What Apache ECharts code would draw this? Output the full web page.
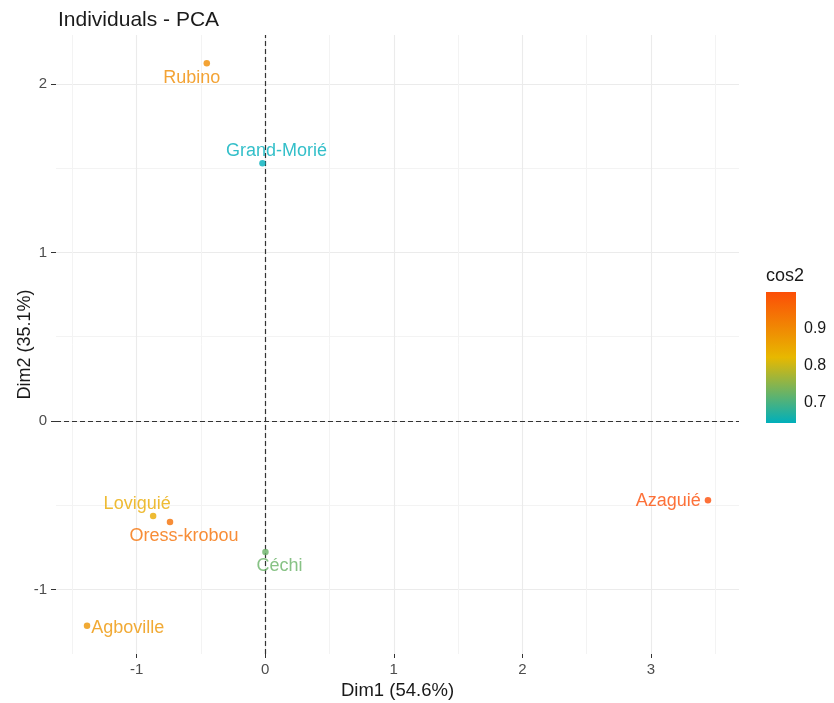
<!DOCTYPE html>
<html>
<head>
<meta charset="utf-8">
<script src="https://cdn.jsdelivr.net/npm/echarts@6/dist/echarts.min.js"></script>
<style>
  html, body { margin: 0; padding: 0; background: #ffffff; }
  #pca-chart { width: 834px; height: 703px; }
</style>
</head>
<body>
<div id="pca-chart"></div>
<script>
// individuals (coordinates on Dim1 / Dim2 and quality of representation)
var names = ['Rubino', 'Grand-Morié', 'Loviguié', 'Oress-krobou', 'Céchi', 'Agboville', 'Azaguié'];
var dim1 = [-0.454, -0.021, -0.871, -0.740, 0.002, -1.385, 3.443];
var dim2 = [2.123, 1.529, -0.564, -0.600, -0.778, -1.216, -0.471];
var cos2 = [0.895, 0.645, 0.845, 0.94, 0.725, 0.88, 0.998];

var xTicks = [-1, 0, 1, 2, 3];
var yTicks = [-1, 0, 1, 2];
var cos2Ticks = [0.7, 0.8, 0.9];
var gradientCols = ['#00AFBB', '#E7B800', '#FC4E07'];

// where the repelled labels ended up, relative to each point
var labelPlace = [
  { pos: 'inside', off: [-15, 15] },
  { pos: 'inside', off: [14, -12] },
  { pos: 'inside', off: [-16, -12] },
  { pos: 'inside', off: [14, 14] },
  { pos: 'inside', off: [14, 14] },
  { pos: 'right', off: [0, 2], dist: 1 },
  { pos: 'left', off: [0, 1], dist: 4 }
];

var font = 'Liberation Sans, Arial, sans-serif';

// ggplot style 5% expansion of the data range
function expand(arr) {
  var lo = Math.min.apply(null, arr), hi = Math.max.apply(null, arr);
  var pad = (hi - lo) * 0.05;
  return [lo - pad, hi + pad];
}
var xr = expand(dim1), yr = expand(dim2);
var cMin = Math.min.apply(null, cos2), cMax = Math.max.apply(null, cos2);

var points = names.map(function (n, i) {
  var p = labelPlace[i];
  return {
    name: n,
    value: [dim1[i], dim2[i], cos2[i]],
    label: { position: p.pos, offset: p.off, distance: p.dist || 5 }
  };
});

var myChart = echarts.init(document.getElementById('pca-chart'));

var option = {
  backgroundColor: '#ffffff',
  animation: false,
  title: {
    text: 'Individuals - PCA',
    left: 53, top: 5,
    textStyle: { fontFamily: font, fontSize: 21, fontWeight: 'normal', color: '#1a1a1a' }
  },
  grid: [
    { left: 56, right: 95, top: 35, bottom: 49, containLabel: false, outerBoundsMode: 'none' },
    { left: 766, width: 30, top: 292, height: 131, containLabel: false, outerBoundsMode: 'none' }
  ],
  xAxis: [
    {
      gridIndex: 0,
      type: 'value',
      min: xr[0], max: xr[1],
      minInterval: 1, maxInterval: 1,
      name: 'Dim1 (54.6%)',
      nameLocation: 'middle',
      nameGap: 25,
      nameTextStyle: { fontFamily: font, fontSize: 18.5, color: '#1a1a1a' },
      axisLine: { show: false, onZero: false },
      axisTick: { show: true, length: 4, customValues: xTicks, lineStyle: { color: '#333333', width: 1 } },
      axisLabel: { customValues: xTicks, margin: 8, fontFamily: font, fontSize: 15, color: '#4d4d4d' },
      splitLine: { show: true, lineStyle: { color: '#ebebeb', width: 1.1 } },
      minorTick: { show: false, splitNumber: 2 },
      minorSplitLine: { show: true, lineStyle: { color: '#f3f3f3', width: 1 } }
    },
    {
      gridIndex: 1,
      type: 'category',
      data: ['cos2'],
      show: false
    }
  ],
  yAxis: [
    {
      gridIndex: 0,
      type: 'value',
      min: yr[0], max: yr[1],
      minInterval: 1, maxInterval: 1,
      name: 'Dim2 (35.1%)',
      nameLocation: 'middle',
      nameGap: 22,
      nameMoveOverlap: false,
      nameRotate: 90,
      nameTextStyle: { fontFamily: font, fontSize: 18, color: '#1a1a1a' },
      axisLine: { show: false, onZero: false },
      axisTick: { show: true, length: 5, customValues: yTicks, lineStyle: { color: '#333333', width: 1 } },
      axisLabel: { customValues: yTicks, margin: 9, fontFamily: font, fontSize: 15, color: '#4d4d4d' },
      splitLine: { show: true, lineStyle: { color: '#ebebeb', width: 1.1 } },
      minorTick: { show: false, splitNumber: 2 },
      minorSplitLine: { show: true, lineStyle: { color: '#f3f3f3', width: 1 } }
    },
    {
      // colourbar scale, labels on the right
      gridIndex: 1,
      type: 'value',
      position: 'right',
      min: cMin, max: cMax,
      axisLine: { show: false, onZero: false },
      axisTick: { show: true, inside: true, length: 5, customValues: cos2Ticks, lineStyle: { color: '#ffffff', width: 1 } },
      axisLabel: { customValues: cos2Ticks, margin: 8, fontFamily: font, fontSize: 16, color: '#1a1a1a' },
      splitLine: { show: false }
    },
    {
      gridIndex: 1,
      type: 'value',
      position: 'left',
      min: cMin, max: cMax,
      name: 'cos2',
      nameLocation: 'end',
      nameGap: 7,
      nameTextStyle: { fontFamily: font, fontSize: 18, color: '#1a1a1a', align: 'left' },
      axisLine: { show: false, onZero: false },
      axisTick: { show: true, inside: true, length: 5, customValues: cos2Ticks, lineStyle: { color: '#ffffff', width: 1 } },
      axisLabel: { show: false },
      splitLine: { show: false }
    }
  ],
  visualMap: {
    show: false,
    type: 'continuous',
    seriesIndex: 0,
    dimension: 2,
    min: cMin, max: cMax,
    inRange: { color: gradientCols }
  },
  series: [
    {
      type: 'scatter',
      xAxisIndex: 0, yAxisIndex: 0,
      symbolSize: 6.5,
      data: points,
      label: {
        show: true,
        formatter: '{b}',
        color: 'inherit',
        fontFamily: font,
        fontSize: 18
      },
      markLine: {
        silent: true,
        symbol: 'none',
        label: { show: false },
        lineStyle: { color: '#333333', type: [5, 3], width: 1.2 },
        data: [{ xAxis: 0 }, { yAxis: 0 }]
      },
      z: 5
    },
    {
      // colourbar: empty base up to the scale minimum, gradient on top
      type: 'bar',
      xAxisIndex: 1, yAxisIndex: 2,
      stack: 'bar',
      barWidth: '100%',
      silent: true,
      itemStyle: { color: 'rgba(0,0,0,0)' },
      data: [cMin]
    },
    {
      type: 'bar',
      xAxisIndex: 1, yAxisIndex: 2,
      stack: 'bar',
      barWidth: '100%',
      silent: true,
      itemStyle: {
        color: {
          type: 'linear', x: 0, y: 1, x2: 0, y2: 0,
          colorStops: [
            { offset: 0, color: gradientCols[0] },
            { offset: 0.5, color: gradientCols[1] },
            { offset: 1, color: gradientCols[2] }
          ]
        }
      },
      data: [cMax - cMin]
    }
  ]
};

myChart.setOption(option);
</script>
</body>
</html>
